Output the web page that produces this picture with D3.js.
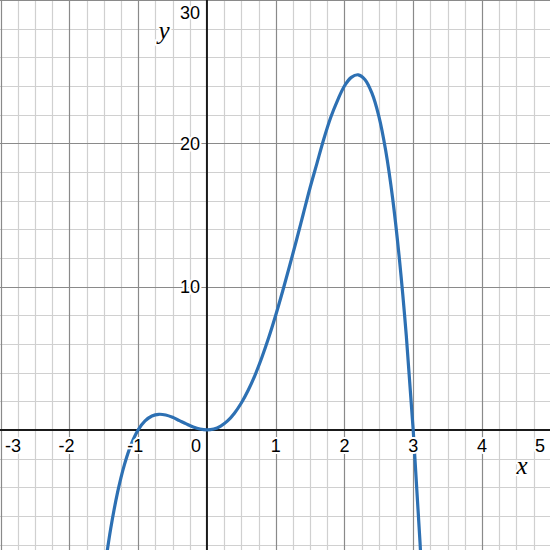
<!DOCTYPE html>
<html>
<head>
<meta charset="utf-8">
<script src="https://cdn.jsdelivr.net/npm/d3@7"></script>
<style>
  html, body { margin: 0; padding: 0; background: #fff; }
  svg { display: block; }
  .lbl { font-family: "Liberation Sans", Arial, sans-serif; font-size: 18px; fill: #000;
         stroke: #fff; stroke-width: 4px; paint-order: stroke; stroke-linejoin: round; }
  .axlbl { font-family: "Liberation Serif", "Times New Roman", serif; font-style: italic; font-size: 25px; fill: #000;
         stroke: #fff; stroke-width: 4px; paint-order: stroke; }
</style>
</head>
<body>
<div id="chart"></div>
<script>
// ---- data ----
const xValues = [-1.5, -1.4, -1.3, -1.2, -1.1, -1.0, -0.9, -0.8, -0.7, -0.6, -0.5, -0.4, -0.3, -0.2, -0.1,
                 0.0, 0.1, 0.2, 0.3, 0.4, 0.5, 0.6, 0.7, 0.8, 0.9, 1.0, 1.1, 1.2, 1.3, 1.4, 1.5,
                 1.6, 1.7, 1.8, 1.9, 2.0, 2.1, 2.2, 2.3, 2.4, 2.5, 2.6, 2.7, 2.8, 2.9, 3.0, 3.1, 3.2];
const yValues = [-10.1, -6.9, -4.36, -2.42, -0.99, 0.0, 0.63, 0.97, 1.09, 1.04, 0.88, 0.65, 0.42, 0.21, 0.06,
                 0.0, 0.06, 0.27, 0.63, 1.17, 1.88, 2.77, 3.83, 5.07, 6.46, 8.0, 9.66, 11.4, 13.2, 15.05, 16.9,
                 18.6, 20.3, 21.8, 23.0, 24.0, 24.6, 24.78, 24.44, 23.5, 21.9, 19.5, 16.2, 11.9, 6.56, 0.0, -7.9, -17.2];
const xTickLabels = [-3, -2, -1, 0, 1, 2, 3, 4, 5];
const yTickLabels = [10, 20, 30];
const xAxisTitle = "x";
const yAxisTitle = "y";

// ---- layout ----
const W = 550, H = 550;
const x = d3.scaleLinear().domain([-3.01, 4.99]).range([0, W]);
const y = d3.scaleLinear().domain([-8.38, 30.0]).range([H, 0]);

const svg = d3.select("#chart").append("svg").attr("width", W).attr("height", H);

// grid
const minorX = d3.range(-3, 5.001, 0.25).filter(v => Math.abs(v - Math.round(v)) > 1e-6);
const majorX = d3.range(-3, 6, 1).filter(v => v !== 0);
const minorY = d3.range(-8, 31, 2).filter(v => v % 10 !== 0);
const majorY = [-10, 10, 20, 30];

const g = svg.append("g");
g.selectAll(".mx").data(minorX).join("line")
  .attr("x1", d => Math.round(x(d)) + 0.5).attr("x2", d => Math.round(x(d)) + 0.5)
  .attr("y1", 0).attr("y2", H).attr("stroke", "#d0d0d0").attr("stroke-width", 1.2);
g.selectAll(".my").data(minorY).join("line")
  .attr("y1", d => Math.round(y(d)) + 0.5).attr("y2", d => Math.round(y(d)) + 0.5)
  .attr("x1", 0).attr("x2", W).attr("stroke", "#d0d0d0").attr("stroke-width", 1.2);
g.selectAll(".Mx").data(majorX).join("line")
  .attr("x1", d => Math.round(x(d)) + 0.5).attr("x2", d => Math.round(x(d)) + 0.5)
  .attr("y1", 0).attr("y2", H).attr("stroke", "#8a8a8a").attr("stroke-width", 1.2);
g.selectAll(".My").data(majorY).join("line")
  .attr("y1", d => Math.round(y(d)) + 0.5).attr("y2", d => Math.round(y(d)) + 0.5)
  .attr("x1", 0).attr("x2", W).attr("stroke", "#8a8a8a").attr("stroke-width", 1.2);

// axes
svg.append("line").attr("x1", 0).attr("x2", W).attr("y1", y(0)).attr("y2", y(0))
  .attr("stroke", "#1a1a1a").attr("stroke-width", 2);
svg.append("line").attr("y1", 0).attr("y2", H).attr("x1", x(0)).attr("x2", x(0))
  .attr("stroke", "#1a1a1a").attr("stroke-width", 2);

// curve
const pts = xValues.map((v, i) => [v, yValues[i]]);
svg.append("clipPath").attr("id", "clip").append("rect").attr("width", W).attr("height", H);
svg.append("path")
  .datum(pts)
  .attr("clip-path", "url(#clip)")
  .attr("fill", "none")
  .attr("stroke", "#2d70b3")
  .attr("stroke-width", 3.2)
  .attr("stroke-linejoin", "round")
  .attr("stroke-linecap", "round")
  .attr("d", d3.line().x(d => x(d[0])).y(d => y(d[1])).curve(d3.curveCatmullRom.alpha(0.5)));

// x tick labels
const digitHalf = 5.0;
const labelBaseline = y(0) + 22.5;
xTickLabels.forEach(v => {
  let px = x(v);
  const t = svg.append("text").attr("class", "lbl").attr("y", labelBaseline);
  if (v === 0) {
    t.attr("x", x(0) - 6).attr("text-anchor", "end").text("0");
    return;
  }
  if (v < 0) {
    let right = px + digitHalf;
    const wTot = 16;
    if (right - wTot < 5) right = 5 + wTot;
    t.attr("x", right).attr("text-anchor", "end").text(String(v));
  } else {
    if (px + digitHalf > 545) px = 545 - digitHalf;
    t.attr("x", px).attr("text-anchor", "middle").text(String(v));
  }
});

// y tick labels
yTickLabels.forEach(v => {
  let py = y(v);
  if (py < 13) py = 13;
  svg.append("text").attr("class", "lbl")
    .attr("x", x(0) - 7).attr("y", py + 6.4)
    .attr("text-anchor", "end").text(String(v));
});

// axis titles
svg.append("text").attr("class", "axlbl").attr("x", 522).attr("y", 474).attr("text-anchor", "middle").text(xAxisTitle);
svg.append("text").attr("class", "axlbl").attr("x", 164).attr("y", 39).attr("text-anchor", "middle").text(yAxisTitle);
</script>
</body>
</html>
